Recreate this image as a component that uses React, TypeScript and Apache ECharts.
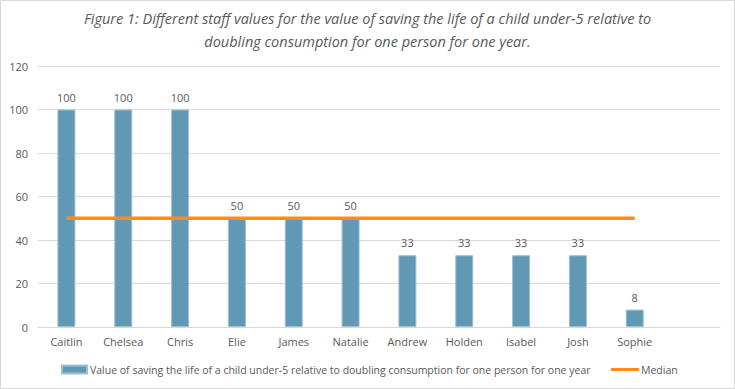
import React, { useEffect, useRef } from "react";
import * as echarts from "echarts";

const categories = ["Caitlin", "Chelsea", "Chris", "Elie", "James", "Natalie", "Andrew", "Holden", "Isabel", "Josh", "Sophie", ""];
const values = [100, 100, 100, 50, 50, 50, 33, 33, 33, 33, 8, null];
const median = [50, 50, 50, 50, 50, 50, 50, 50, 50, 50, 50, null];
const yTicks = { min: 0, max: 120, interval: 20 };
const barName = "Value of saving the life of a child under-5 relative to doubling consumption for one person for one year";
const lineName = "Median";
const titleLines = [
  "Figure 1: Different staff values for the value of saving the life of a child under-5 relative to",
  "doubling consumption for one person for one year.",
];

const FONT = "'Open Sans', 'Noto Sans', sans-serif";

export default function App() {
  const ref = useRef<HTMLDivElement>(null);
  useEffect(() => {
    document.body.style.margin = "0";
    const chart = echarts.init(ref.current!, null, { renderer: "svg" });
    chart.setOption({
      animation: false,
      backgroundColor: "#ffffff",
      textStyle: { fontFamily: FONT },
      grid: { left: 38, right: 15, top: 66, bottom: 62, containLabel: false },
      legend: [
        {
          data: [{ name: barName, icon: "rect" }],
          left: 56,
          top: 359,
          itemWidth: 25,
          itemHeight: 8,
          itemGap: 3,
          textStyle: { fontFamily: FONT, fontSize: 10.5, color: "#595959", padding: [0, 0, 0, -2] },
        },
        {
          data: [{ name: lineName, icon: "rect" }],
          left: 606,
          top: 359,
          itemWidth: 28,
          itemHeight: 3,
          textStyle: { fontFamily: FONT, fontSize: 10.5, color: "#595959", padding: [0, 0, 0, -3] },
        },
      ],
      xAxis: {
        type: "category",
        data: categories,
        boundaryGap: true,
        axisLine: { lineStyle: { color: "#d9d9d9" } },
        axisTick: { show: false },
        axisLabel: { color: "#595959", fontSize: 11, margin: 9, fontFamily: FONT },
      },
      yAxis: {
        type: "value",
        min: yTicks.min,
        max: yTicks.max,
        interval: yTicks.interval,
        axisLine: { show: false },
        axisTick: { show: false },
        splitLine: { lineStyle: { color: "#d9d9d9" } },
        axisLabel: { color: "#595959", fontSize: 11, margin: 10, fontFamily: FONT },
      },
      series: [
        {
          name: barName,
          type: "bar",
          data: values,
          barWidth: 18,
          itemStyle: { color: "#6199B5", borderColor: "#9cc1d4", borderWidth: 1 },
          label: {
            show: true,
            position: "top",
            distance: 7,
            color: "#595959",
            fontSize: 11,
            fontFamily: FONT,
          },
        },
        {
          name: lineName,
          type: "line",
          data: median,
          symbol: "none",
          lineStyle: { color: "#FF8C1A", width: 3.5 },
          itemStyle: { color: "#FF8C1A" },
        },
      ],
      graphic: [
        ...titleLines.map((t, i) => ({
          type: "text",
          x: 367.5,
          y: 18 + i * 23,
          style: {
            text: t,
            fontFamily: FONT,
            fontStyle: "italic",
            fontSize: 14.5,
            fill: "#595959",
            textAlign: "center",
            textVerticalAlign: "middle",
          },
          silent: true,
        })),
        {
          type: "rect",
          shape: { x: 0.5, y: 0.5, width: 734, height: 388 },
          style: { fill: "none", stroke: "#d9d9d9", lineWidth: 1 },
          silent: true,
          z: 100,
        },
      ],
    });
    return () => chart.dispose();
  }, []);
  return <div ref={ref} style={{ width: 735, height: 389 }} />;
}
